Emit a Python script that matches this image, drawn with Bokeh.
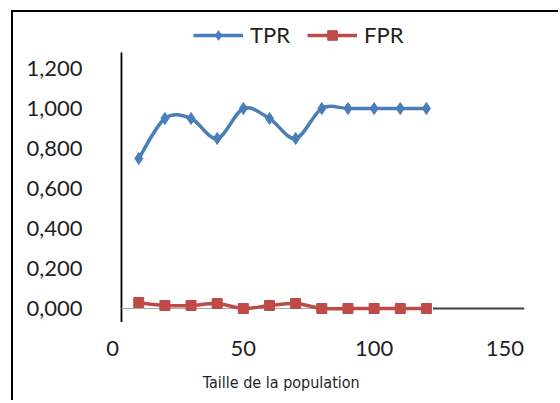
import numpy as np
from bokeh.plotting import figure
from bokeh.models import (Range1d, FixedTicker, CustomJSTickFormatter, Label,
                          Legend, LegendItem, ColumnDataSource)
from bokeh.embed import file_html
from bokeh.resources import INLINE

# ---- data ----
population = [10, 20, 30, 40, 50, 60, 70, 80, 90, 100, 110, 120]
tpr = [0.75, 0.95, 0.95, 0.85, 1.00, 0.95, 0.85, 1.00, 1.00, 1.00, 1.00, 1.00]
fpr = [0.03, 0.015, 0.015, 0.025, 0.0, 0.015, 0.025, 0.0, 0.0, 0.0, 0.0, 0.0]
series_names = ["TPR", "FPR"]
x_ticks = [0, 50, 100, 150]
y_ticks = [0.0, 0.2, 0.4, 0.6, 0.8, 1.0, 1.2]
x_title = "Taille de la population"

BLUE = "#4A7EBB"
RED = "#BE4B48"
FONT = "Lato"
TXT = "#1f1f1f"

X_MIN, X_MAX = -5, 157.5
Y_AX_BOTTOM, Y_AX_TOP = -0.068, 1.28   # extent of the plot area (vertical axis line)

p = figure(width=547, height=390, output_backend="svg", toolbar_location=None,
           title=None, x_range=Range1d(X_MIN, X_MAX), y_range=Range1d(-0.455, 1.44),
           min_border_left=86, min_border_right=36, min_border_top=8, min_border_bottom=3)
p.styles = {"margin-left": "11px", "margin-top": "10px",
            "border-left": "2px solid black", "border-top": "2px solid black"}
p.outline_line_color = None
p.grid.visible = False
p.background_fill_color = "white"
p.border_fill_color = "white"

# axes
xa = p.xaxis[0]
xa.fixed_location = Y_AX_BOTTOM
xa.ticker = FixedTicker(ticks=x_ticks)
xa.axis_line_color = None
xa.major_tick_line_color = None
xa.minor_tick_line_color = None
xa.major_label_standoff = 13
xa.major_label_text_font = FONT
xa.major_label_text_font_size = "22px"
xa.major_label_text_color = TXT

ya = p.yaxis[0]
ya.ticker = FixedTicker(ticks=y_ticks)
ya.formatter = CustomJSTickFormatter(code="return tick.toFixed(3).replace('.', ',');")
ya.axis_line_color = None
ya.major_tick_line_color = None
ya.minor_tick_line_color = None
ya.major_label_standoff = 11
ya.major_label_text_font = FONT
ya.major_label_text_font_size = "22px"
ya.major_label_text_color = TXT

# vertical axis line (crossing a little right of 0) and horizontal baseline
axis_x = 3.4
p.segment(x0=[axis_x], y0=[Y_AX_BOTTOM], x1=[axis_x], y1=[Y_AX_TOP], line_color="black", line_width=1.8)
p.segment(x0=[axis_x], y0=[0], x1=[population[-1]], y1=[0], line_color="#a6a6a6", line_width=1.2)
p.segment(x0=[population[-1] + 2.5], y0=[0], x1=[X_MAX], y1=[0], line_color="#404040", line_width=2.2)


def smooth(xs, ys):
    P = np.column_stack([np.asarray(xs, float), np.asarray(ys, float)])
    n = len(P)
    x0, y0, x1, y1, cx0, cy0, cx1, cy1 = ([] for _ in range(8))
    for i in range(n - 1):
        pm = P[i - 1] if i > 0 else P[i]
        pp = P[i + 2] if i + 2 < n else P[i + 1]
        c0 = P[i] + (P[i + 1] - pm) / 6.0
        c1 = P[i + 1] - (pp - P[i]) / 6.0
        x0.append(P[i][0]); y0.append(P[i][1])
        x1.append(P[i + 1][0]); y1.append(P[i + 1][1])
        cx0.append(c0[0]); cy0.append(c0[1])
        cx1.append(c1[0]); cy1.append(c1[1])
    return dict(x0=x0, y0=y0, x1=x1, y1=y1, cx0=cx0, cy0=cy0, cx1=cx1, cy1=cy1)


items = []
for name, vals, color, marker, msize, lw in [
        (series_names[0], tpr, BLUE, "diamond", 12, 3.5),
        (series_names[1], fpr, RED, "square", 10, 3.5)]:
    p.bezier(source=ColumnDataSource(smooth(population, vals)), x0="x0", y0="y0", x1="x1", y1="y1",
             cx0="cx0", cy0="cy0", cx1="cx1", cy1="cy1", line_color=color, line_width=lw)
    p.scatter(population, vals, marker=marker, size=msize, fill_color=color, line_color=color)
    # legend-only renderers (one NaN point: nothing drawn in the plot area)
    lr = p.line(x=[np.nan], y=[np.nan], line_color=color, line_width=lw)
    mr = p.scatter(x=[np.nan], y=[np.nan], marker=marker, size=msize, fill_color=color, line_color=color)
    items.append(LegendItem(label=name, renderers=[lr, mr]))

legend = Legend(items=items, orientation="horizontal", location=(94, 351),
                padding=0, margin=0, spacing=17, label_standoff=7,
                glyph_width=50, glyph_height=24, label_height=24,
                label_text_font=FONT, label_text_font_size="22px", label_text_color=TXT,
                border_line_color=None, background_fill_alpha=0)
p.add_layout(legend, "center")

p.add_layout(Label(x=64.5, y=-0.37, text=x_title, text_align="center", text_baseline="middle",
                   text_font="'DejaVu Sans Condensed', 'Liberation Sans Narrow', sans-serif",
                   text_font_size="16px", text_color=TXT))

open("out.html", "w").write(file_html(p, INLINE))
